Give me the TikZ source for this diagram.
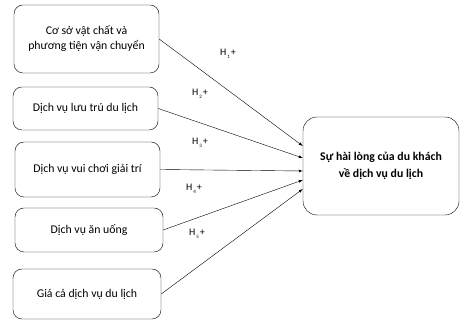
\documentclass[tikz,border=0pt]{standalone}
\usepackage{fontspec}
\setmainfont{Carlito}
\newcommand{\hlab}[1]{H\kern1pt\raisebox{-3pt}{\fontsize{5}{5}\selectfont #1}\kern1pt+}
\begin{document}
\begin{tikzpicture}[x=1pt,y=1pt]
    \tikzstyle{factor}=[draw=black,rounded corners=9pt,align=center,font=\fontsize{11.8}{15}\selectfont,minimum width=145pt,inner sep=2pt]
    \tikzstyle{result}=[draw=black,rounded corners=14pt,align=center,font=\fontsize{11.8}{17}\selectfont\bfseries,minimum width=156pt,minimum height=98pt]
    \tikzstyle{link}=[->,>=latex]
    \tikzstyle{hyp}=[font=\fontsize{10}{12}\selectfont]

    \useasboundingbox (0,0) rectangle (460,320);

    \node[factor,minimum height=68pt] at (86.5,281) (f1) {Cơ sở vật chất và\\phương tiện vận chuyển};
    \node[factor,minimum height=43pt] at (85.5,211.5) (f2) {Dịch vụ lưu trú du lịch};
    \node[factor,minimum height=55pt] at (87.5,150.5) (f3) {Dịch vụ vui chơi giải trí};
    \node[factor,minimum height=44pt,minimum width=148pt] at (89,90) (f4) {Dịch vụ ăn uống};
    \node[factor,minimum height=50pt,minimum width=148pt] at (87,26) (f5) {Giá cả dịch vụ du lịch};

    \node[result] at (381,154) (res) {Sự hài lòng của du khách\\về dịch vụ du lịch};

    \draw[link] (f1.east) -- ([yshift=20pt]res.west);
    \draw[link] (f2.east) -- ([yshift=8pt]res.west);
    \draw[link] (f3.east) -- ([yshift=-5pt]res.west);
    \draw[link] (f4.east) -- ([yshift=-14pt]res.west);
    \draw[link] (f5.east) -- ([yshift=-23pt]res.west);

    \node[hyp] at (228,266) (h1) {\hlab{1}};
    \node[hyp] at (200,226) (h2) {\hlab{2}};
    \node[hyp] at (200,177) (h3) {\hlab{3}};
    \node[hyp] at (194,131) (h4) {\hlab{4}};
    \node[hyp] at (197,86) (h5) {\hlab{5}};
\end{tikzpicture}
\end{document}
